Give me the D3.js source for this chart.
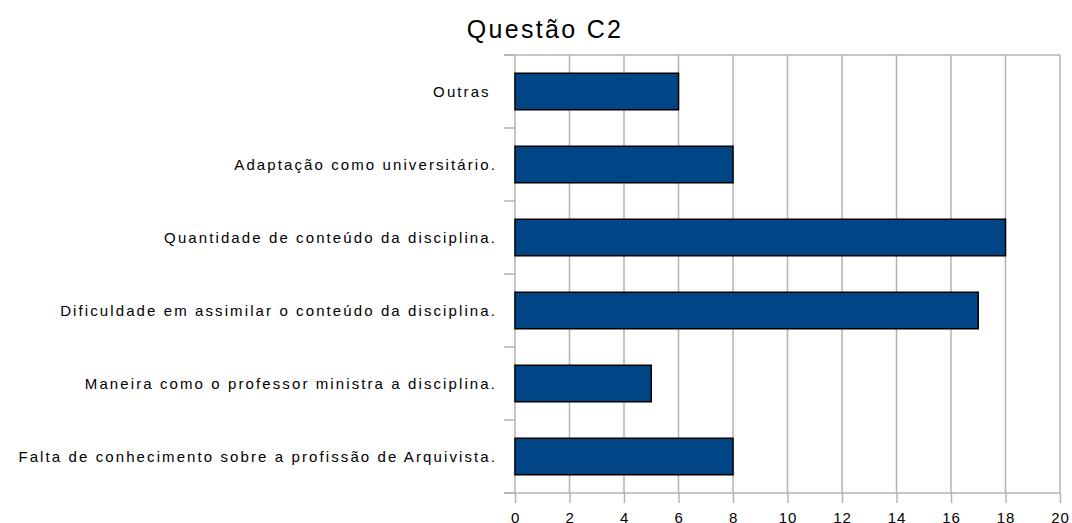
<!DOCTYPE html>
<html>
<head>
<meta charset="utf-8">
<script src="https://cdn.jsdelivr.net/npm/d3@7"></script>
<style>
    body { margin: 0; background: #fff; }
    svg { display: block; }
    text { font-family: "Liberation Sans", Arial, sans-serif; fill: #000; white-space: pre; }
</style>
</head>
<body>
<div id="chart"></div>
<script>
"use strict";

const title = "Questão C2";
const categories = [
    "Outras ",
    "Adaptação como universitário.",
    "Quantidade de conteúdo da disciplina.",
    "Dificuldade em assimilar o conteúdo da disciplina.",
    "Maneira como o professor ministra a disciplina.",
    "Falta de conhecimento sobre a profissão de Arquivista.",
];
const values = [6, 8, 18, 17, 5, 8];
const xticks = [0, 2, 4, 6, 8, 10, 12, 14, 16, 18, 20];

const W = 1072;
const H = 523;
const LEFT = 515;
const RIGHT = 1060;
const TOP = 55;
const BOTTOM = 493;

let svg = d3.select("#chart").append("svg")
    .attr("width", W)
    .attr("height", H);

let xscale = d3.scaleLinear()
    .domain([0, 20])
    .range([LEFT, RIGHT]);

let yscale = d3.scaleBand()
    .domain(categories)
    .range([TOP, BOTTOM])
    .paddingInner(0.5)
    .paddingOuter(0.25);

// vertical gridlines
svg.append("g")
    .selectAll("line")
    .data(xticks)
    .join("line")
    .attr("x1", d => xscale(d))
    .attr("x2", d => xscale(d))
    .attr("y1", TOP)
    .attr("y2", BOTTOM)
    .attr("stroke", "#b3b3b3")
    .attr("stroke-width", 1.5);

// top border line
svg.append("line")
    .attr("x1", LEFT - 11).attr("x2", RIGHT)
    .attr("y1", TOP).attr("y2", TOP)
    .attr("stroke", "#b3b3b3")
    .attr("stroke-width", 1.5);

// category separators on the y axis
let step = (BOTTOM - TOP) / categories.length;
let seps = d3.range(categories.length + 1).map(i => TOP + i * step);
svg.append("g")
    .selectAll("line")
    .data(seps)
    .join("line")
    .attr("x1", LEFT - 11)
    .attr("x2", LEFT)
    .attr("y1", d => d)
    .attr("y2", d => d)
    .attr("stroke", "#b3b3b3")
    .attr("stroke-width", 1.5);

// x axis
let xaxis = svg.append("g")
    .attr("transform", `translate(0,${BOTTOM})`)
    .call(d3.axisBottom(xscale).tickValues(xticks).tickSize(10).tickPadding(9));
xaxis.select(".domain").attr("stroke", "#b3b3b3").attr("stroke-width", 1.5)
    .attr("d", `M${LEFT - 11},0H${RIGHT}`);
xaxis.selectAll(".tick line").attr("stroke", "#b3b3b3").attr("stroke-width", 1.5);
xaxis.selectAll(".tick text")
    .attr("font-size", 15)
    .attr("letter-spacing", 0.8)
    .attr("font-family", "Liberation Sans, Arial, sans-serif")
    .attr("fill", "#000");

// y axis labels
svg.append("g")
    .selectAll("text")
    .data(categories)
    .join("text")
    .attr("x", LEFT - 18)
    .attr("y", d => yscale(d) + yscale.bandwidth() / 2)
    .attr("dy", "0.35em")
    .attr("text-anchor", "end")
    .attr("font-size", 15)
    .attr("letter-spacing", 2.1)
    .text(d => d);

// bars
svg.append("g")
    .selectAll("rect")
    .data(values)
    .join("rect")
    .attr("x", xscale(0))
    .attr("y", (d, i) => yscale(categories[i]))
    .attr("width", d => xscale(d) - xscale(0))
    .attr("height", yscale.bandwidth())
    .attr("fill", "#004586")
    .attr("stroke", "#000")
    .attr("stroke-width", 1.5);

// title
svg.append("text")
    .attr("x", 545)
    .attr("y", 38)
    .attr("text-anchor", "middle")
    .attr("font-size", 25)
    .attr("letter-spacing", 2.3)
    .text(title);
</script>
</body>
</html>
